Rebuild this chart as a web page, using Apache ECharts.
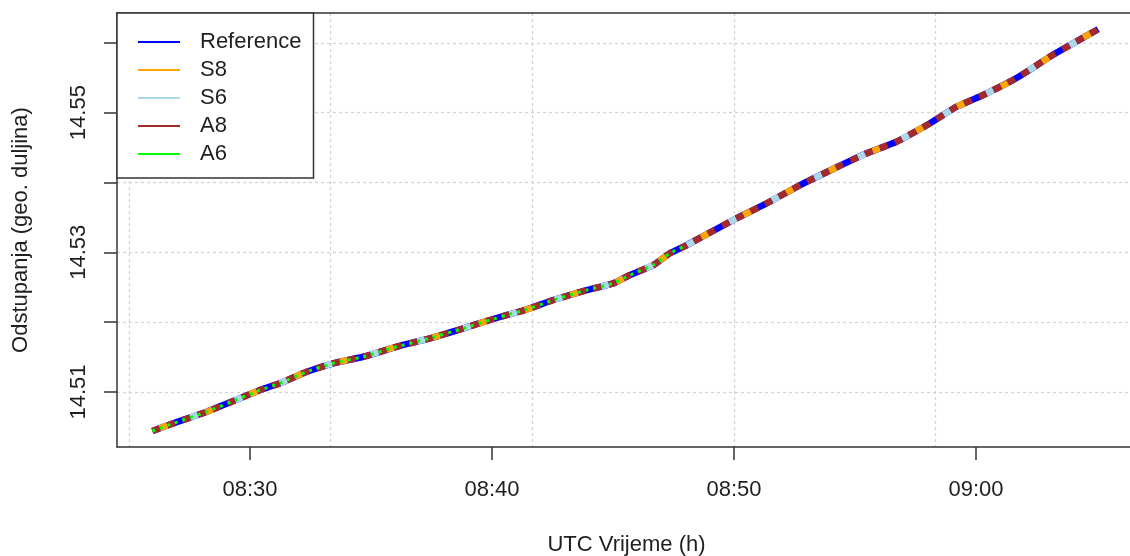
<!DOCTYPE html>
<html><head><meta charset="utf-8">
<script src="https://cdn.jsdelivr.net/npm/echarts@6/dist/echarts.min.js"></script>
<style>html,body{margin:0;padding:0;background:#fff;overflow:hidden}#c{width:1130px;height:556px}</style>
</head><body><div id="c"></div><script>
// UTC time of each sample (HH:MM:SS)
const times = ['08:25:58','08:26:50','08:28:13','08:29:35','08:30:25','08:31:14','08:32:21','08:33:31','08:34:41','08:36:04','08:37:26','08:38:49','08:39:55','08:40:36','08:41:22','08:42:32','08:43:55','08:45:01','08:45:42','08:46:40','08:47:21','08:48:03','08:49:00','08:49:58','08:51:21','08:52:44','08:54:06','08:55:29','08:56:43','08:58:06','08:59:12','09:00:18','09:01:24','09:02:06','09:03:03','09:04:01','09:05:03'];
const reference = [14.50442,14.50552,14.50718,14.50910,14.51029,14.51125,14.51291,14.51418,14.51505,14.51649,14.51769,14.51912,14.52031,14.52102,14.52174,14.52317,14.52460,14.52556,14.52675,14.52818,14.52986,14.53104,14.53283,14.53462,14.53701,14.53963,14.54193,14.54417,14.54583,14.54847,14.55084,14.55252,14.55442,14.55586,14.55800,14.55992,14.56193];
const s8 = [14.50442,14.50553,14.50717,14.50911,14.51028,14.51126,14.51290,14.51419,14.51504,14.51650,14.51768,14.51913,14.52030,14.52103,14.52173,14.52318,14.52459,14.52557,14.52674,14.52819,14.52985,14.53105,14.53282,14.53463,14.53700,14.53964,14.54192,14.54418,14.54582,14.54848,14.55083,14.55253,14.55441,14.55587,14.55799,14.55993,14.56192];
const s6 = [14.50443,14.50552,14.50719,14.50910,14.51030,14.51125,14.51292,14.51418,14.51506,14.51649,14.51770,14.51912,14.52032,14.52102,14.52175,14.52317,14.52461,14.52556,14.52676,14.52818,14.52987,14.53104,14.53284,14.53462,14.53702,14.53963,14.54194,14.54417,14.54584,14.54847,14.55085,14.55252,14.55443,14.55586,14.55801,14.55992,14.56194];
const a8 = [14.50441,14.50551,14.50718,14.50909,14.51029,14.51124,14.51291,14.51417,14.51505,14.51648,14.51769,14.51911,14.52031,14.52101,14.52174,14.52316,14.52460,14.52555,14.52675,14.52817,14.52986,14.53103,14.53283,14.53461,14.53701,14.53962,14.54193,14.54416,14.54583,14.54846,14.55084,14.55251,14.55442,14.55585,14.55800,14.55991,14.56193];
const a6 = [14.50442,14.50552,14.50718,14.50910,14.51029,14.51125,14.51291,14.51418,14.51505,14.51649,14.51769,14.51912,14.52031,14.52102,14.52174,14.52317,14.52460,14.52556,14.52675,14.52818,14.52986,14.53104];
const seriesNames = ['Reference','S8','S6','A8','A6'];
const seriesColors = ['#0000ff','#ffa500','#add8e6','#a52a2a','#00ff00'];
const xTickLabels = ['08:30','08:40','08:50','09:00'];
const xGridTimes = ['08:25:00','08:33:20','08:41:40','08:50:00','08:58:20'];
const yTicks = [14.51,14.52,14.53,14.54,14.55,14.56];
const yTickLabels = ['14.51','14.53','14.55'];
const xTitle = 'UTC Vrijeme (h)';
const yTitle = 'Odstupanja (geo. duljina)';

function toMin(s){const p=s.split(':').map(Number);return (p[0]-8)*60+p[1]+(p[2]||0)/60;}
function fmt(m){const h=8+Math.floor(m/60);const mm=Math.round(m%60);return String(h).padStart(2,'0')+':'+String(mm).padStart(2,'0');}
function pairs(vals){return vals.map((v,i)=>[toMin(times[i]),v]);}

const font = '"Liberation Sans", Arial, sans-serif';
const txt = '#1f1f1f';
const axisCol = '#333';
const xMin = 24.504, xMax = 66.612, yMin = 14.50213, yMax = 14.56426;
const gridStyle = {color:'#d3d3d3', width:1.3, type:[3,3]};

const styles = [
  {width:6.5, type:'solid'},
  {width:6.5, type:[8,40], dashOffset:40},
  {width:6.5, type:[8,40], dashOffset:8},
  {width:6.5, type:[8,8], dashOffset:0},
  {width:3, type:[3,5], dashOffset:0}
];
const allVals = [reference, s8, s6, a8, a6];

const chart = echarts.init(document.getElementById('c'), null, {renderer:'canvas'});
chart.setOption({
  animation:false,
  backgroundColor:'#fff',
  grid:{left:117, top:13, width:1019, height:434, show:false, containLabel:false, outerBoundsMode:'none'},
  legend:{
    orient:'vertical', left:117, top:13, icon:'rect', itemWidth:42, itemHeight:2, itemGap:6,
    padding:[18,12,13,21], backgroundColor:'#fff', borderColor:axisCol, borderWidth:1.5,
    textStyle:{fontSize:22, color:txt, fontFamily:font, lineHeight:22, padding:[0,0,0,15]},
    data:seriesNames
  },
  xAxis:[
    {type:'value', min:xMin, max:xMax, position:'bottom',
     name:xTitle, nameLocation:'middle', nameGap:87,
     nameTextStyle:{fontSize:22, color:txt, fontFamily:font},
     axisLine:{show:true, lineStyle:{color:axisCol, width:1.5}},
     axisTick:{show:true, length:13, lineStyle:{color:axisCol, width:1.5}, customValues:xTickLabels.map(toMin)},
     axisLabel:{show:true, margin:32, fontSize:22, color:txt, fontFamily:font, customValues:xTickLabels.map(toMin), formatter:v=>fmt(v)},
     splitLine:{show:false}},
    {type:'value', min:xMin, max:xMax, position:'bottom',
     axisLine:{show:false}, axisLabel:{show:false},
     axisTick:{show:false, customValues:xGridTimes.map(toMin)},
     splitLine:{show:true, lineStyle:gridStyle}},
    {type:'value', min:xMin, max:xMax, position:'top',
     axisLine:{show:true, lineStyle:{color:axisCol, width:1.5}}, axisLabel:{show:false},
     axisTick:{show:false}, splitLine:{show:false}}
  ],
  yAxis:{type:'value', min:yMin, max:yMax,
     name:yTitle, nameLocation:'middle', nameGap:85,
     nameTextStyle:{fontSize:22, color:txt, fontFamily:font},
     axisLine:{show:true, lineStyle:{color:axisCol, width:1.5}},
     axisTick:{show:true, length:13, lineStyle:{color:axisCol, width:1.5}, customValues:yTicks},
     axisLabel:{show:true, rotate:90, margin:27, fontSize:22, color:txt, fontFamily:font, customValues:yTickLabels.map(Number), formatter:v=>v.toFixed(2)},
     splitLine:{show:true, lineStyle:gridStyle}},
  series: seriesNames.map((n,i)=>({
    name:n, type:'line', xAxisIndex:0, symbol:'none', showSymbol:false, smooth:0.15,
    color:seriesColors[i],
    lineStyle:Object.assign({color:seriesColors[i], cap:'butt'}, styles[i]),
    data:pairs(allVals[i]), z:2+i
  }))
});
</script></body></html>
